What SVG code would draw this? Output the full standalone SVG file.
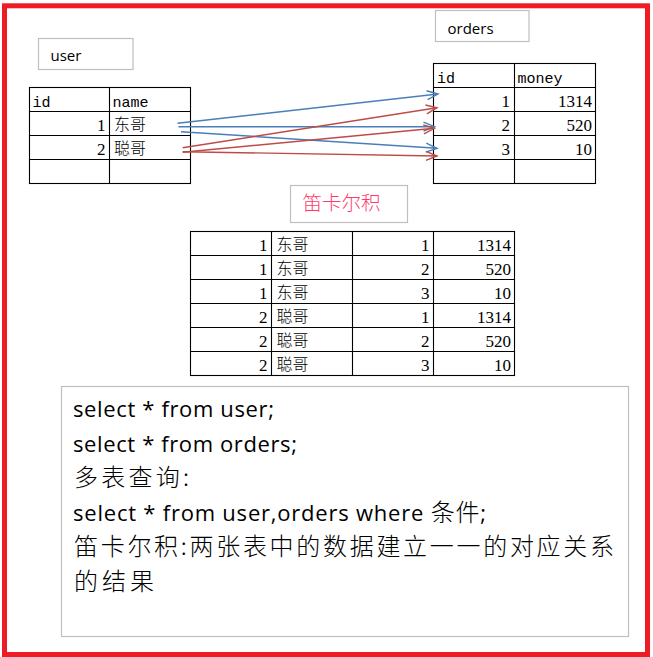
<svg xmlns="http://www.w3.org/2000/svg" width="653" height="657" viewBox="0 0 653 657">
<style>
.grid{stroke:#000;stroke-width:1.1;fill:none}
.lbl{fill:#fff;stroke:#bfbfbf;stroke-width:1.2}
.hd{font-family:"Liberation Mono",monospace;font-size:15px;fill:#000}
.num{font-family:"Liberation Serif",serif;font-size:17px;fill:#000;text-anchor:end}
.cjk{font-family:"Noto Sans CJK SC",sans-serif;font-size:16px;font-weight:300;fill:#000}
.lat{font-family:"Open Sans","Liberation Sans",sans-serif;font-size:15px;fill:#000}
.sql{font-family:"Open Sans","Noto Sans CJK SC",sans-serif;font-size:22px;fill:#000}
.sqlc{font-family:"Noto Sans CJK SC",sans-serif;font-size:24px;font-weight:300;fill:#000}
.blue{stroke:#4a7ebb;stroke-width:1.4;fill:none;marker-end:url(#ab)}
.red{stroke:#be4b48;stroke-width:1.4;fill:none;marker-end:url(#ar)}
</style>
<defs>
<marker id="ab" markerUnits="userSpaceOnUse" markerWidth="14" markerHeight="12" viewBox="-12 -6 14 12" refX="0" refY="0" orient="auto"><path d="M-11,-4.5 L0,0 L-11,4.5" fill="none" stroke="#4a7ebb" stroke-width="1.4"/></marker>
<marker id="ar" markerUnits="userSpaceOnUse" markerWidth="14" markerHeight="12" viewBox="-12 -6 14 12" refX="0" refY="0" orient="auto"><path d="M-11,-4.5 L0,0 L-11,4.5" fill="none" stroke="#be4b48" stroke-width="1.4"/></marker>
</defs>
<rect x="0" y="0" width="653" height="657" fill="#fff"/>
<g id="border"><rect x="4.5" y="5.8" width="643" height="648.7" fill="none" stroke="#ee1c25" stroke-width="5"/></g>

<g id="user-label"><rect class="lbl" x="38.5" y="38.5" width="94.5" height="31"/><text class="lat" x="50.5" y="61">user</text></g>

<g id="user-table">
<rect class="grid" x="29.5" y="87.5" width="161" height="96"/>
<path class="grid" d="M109.5,87.5V183.5M29.5,111.5H190.5M29.5,135.5H190.5M29.5,159.5H190.5"/>
<text class="hd" x="32.5" y="107">id</text><text class="hd" x="112.5" y="107">name</text>
<text class="num" x="105.5" y="131">1</text><text class="cjk" x="114" y="130">东哥</text>
<text class="num" x="105.5" y="155">2</text><text class="cjk" x="114" y="154">聪哥</text>
</g>

<g id="orders-label"><rect class="lbl" x="435.5" y="10.5" width="93.5" height="31"/><text class="lat" x="447.5" y="33.5">orders</text></g>

<g id="orders-table">
<rect class="grid" x="433.5" y="63.5" width="162" height="120"/>
<path class="grid" d="M514.5,63.5V183.5M433.5,87.5H595.5M433.5,111.5H595.5M433.5,135.5H595.5M433.5,159.5H595.5"/>
<text class="hd" x="437" y="83">id</text><text class="hd" x="517.5" y="83">money</text>
<text class="num" x="510" y="107">1</text><text class="num" x="592" y="107">1314</text>
<text class="num" x="510" y="131">2</text><text class="num" x="592" y="131">520</text>
<text class="num" x="510" y="155">3</text><text class="num" x="592" y="155">10</text>
</g>

<g id="connectors">
<line class="blue" x1="177.5" y1="123.3" x2="438" y2="94"/>
<line class="blue" x1="178.5" y1="126.7" x2="434.5" y2="126.7"/>
<line class="blue" x1="181" y1="131.7" x2="437" y2="148.3"/>
<line class="red" x1="182.7" y1="147.7" x2="437" y2="107.7"/>
<line class="red" x1="182.7" y1="152.3" x2="434.5" y2="128.3"/>
<line class="red" x1="182.7" y1="151.7" x2="437" y2="156"/>
</g>

<g id="title"><rect class="lbl" x="290.5" y="185.5" width="117" height="37"/><text x="302.5" y="210" style="font-family:'Noto Sans CJK SC',sans-serif;font-size:19.5px;font-weight:300;fill:#ff3a6c">笛卡尔积</text></g>

<g id="cartesian-table">
<rect class="grid" x="190.5" y="231.5" width="324" height="144"/>
<path class="grid" d="M271.5,231.5V375.5M352.5,231.5V375.5M433.5,231.5V375.5M190.5,255.5H514.5M190.5,279.5H514.5M190.5,303.5H514.5M190.5,327.5H514.5M190.5,351.5H514.5"/>
<text class="num" x="267.5" y="251">1</text><text class="cjk" x="276.5" y="250">东哥</text><text class="num" x="429.5" y="251">1</text><text class="num" x="511" y="251">1314</text>
<text class="num" x="267.5" y="275">1</text><text class="cjk" x="276.5" y="274">东哥</text><text class="num" x="429.5" y="275">2</text><text class="num" x="511" y="275">520</text>
<text class="num" x="267.5" y="299">1</text><text class="cjk" x="276.5" y="298">东哥</text><text class="num" x="429.5" y="299">3</text><text class="num" x="511" y="299">10</text>
<text class="num" x="267.5" y="323">2</text><text class="cjk" x="276.5" y="322">聪哥</text><text class="num" x="429.5" y="323">1</text><text class="num" x="511" y="323">1314</text>
<text class="num" x="267.5" y="347">2</text><text class="cjk" x="276.5" y="346">聪哥</text><text class="num" x="429.5" y="347">2</text><text class="num" x="511" y="347">520</text>
<text class="num" x="267.5" y="371">2</text><text class="cjk" x="276.5" y="370">聪哥</text><text class="num" x="429.5" y="371">3</text><text class="num" x="511" y="371">10</text>
</g>

<g id="sql-box">
<rect class="lbl" x="61.5" y="386.5" width="567" height="250"/>
<text class="sql" x="73" y="417" textLength="201" lengthAdjust="spacing">select * from user;</text>
<text class="sql" x="73" y="451.5" textLength="224" lengthAdjust="spacing">select * from orders;</text>
<text class="sqlc" x="74" y="485.5" textLength="115" lengthAdjust="spacing">多表查询:</text>
<text class="sql" x="73" y="520.5" textLength="413" lengthAdjust="spacing">select * from user,orders where <tspan style="font-family:'Noto Sans CJK SC',sans-serif;font-size:24px;font-weight:300">条件</tspan>;</text>
<text class="sqlc" x="74" y="554.5" textLength="540" lengthAdjust="spacing">笛卡尔积:两张表中的数据建立一一的对应关系</text>
<text class="sqlc" x="74" y="589.5" textLength="80" lengthAdjust="spacing">的结果</text>
</g>
</svg>
